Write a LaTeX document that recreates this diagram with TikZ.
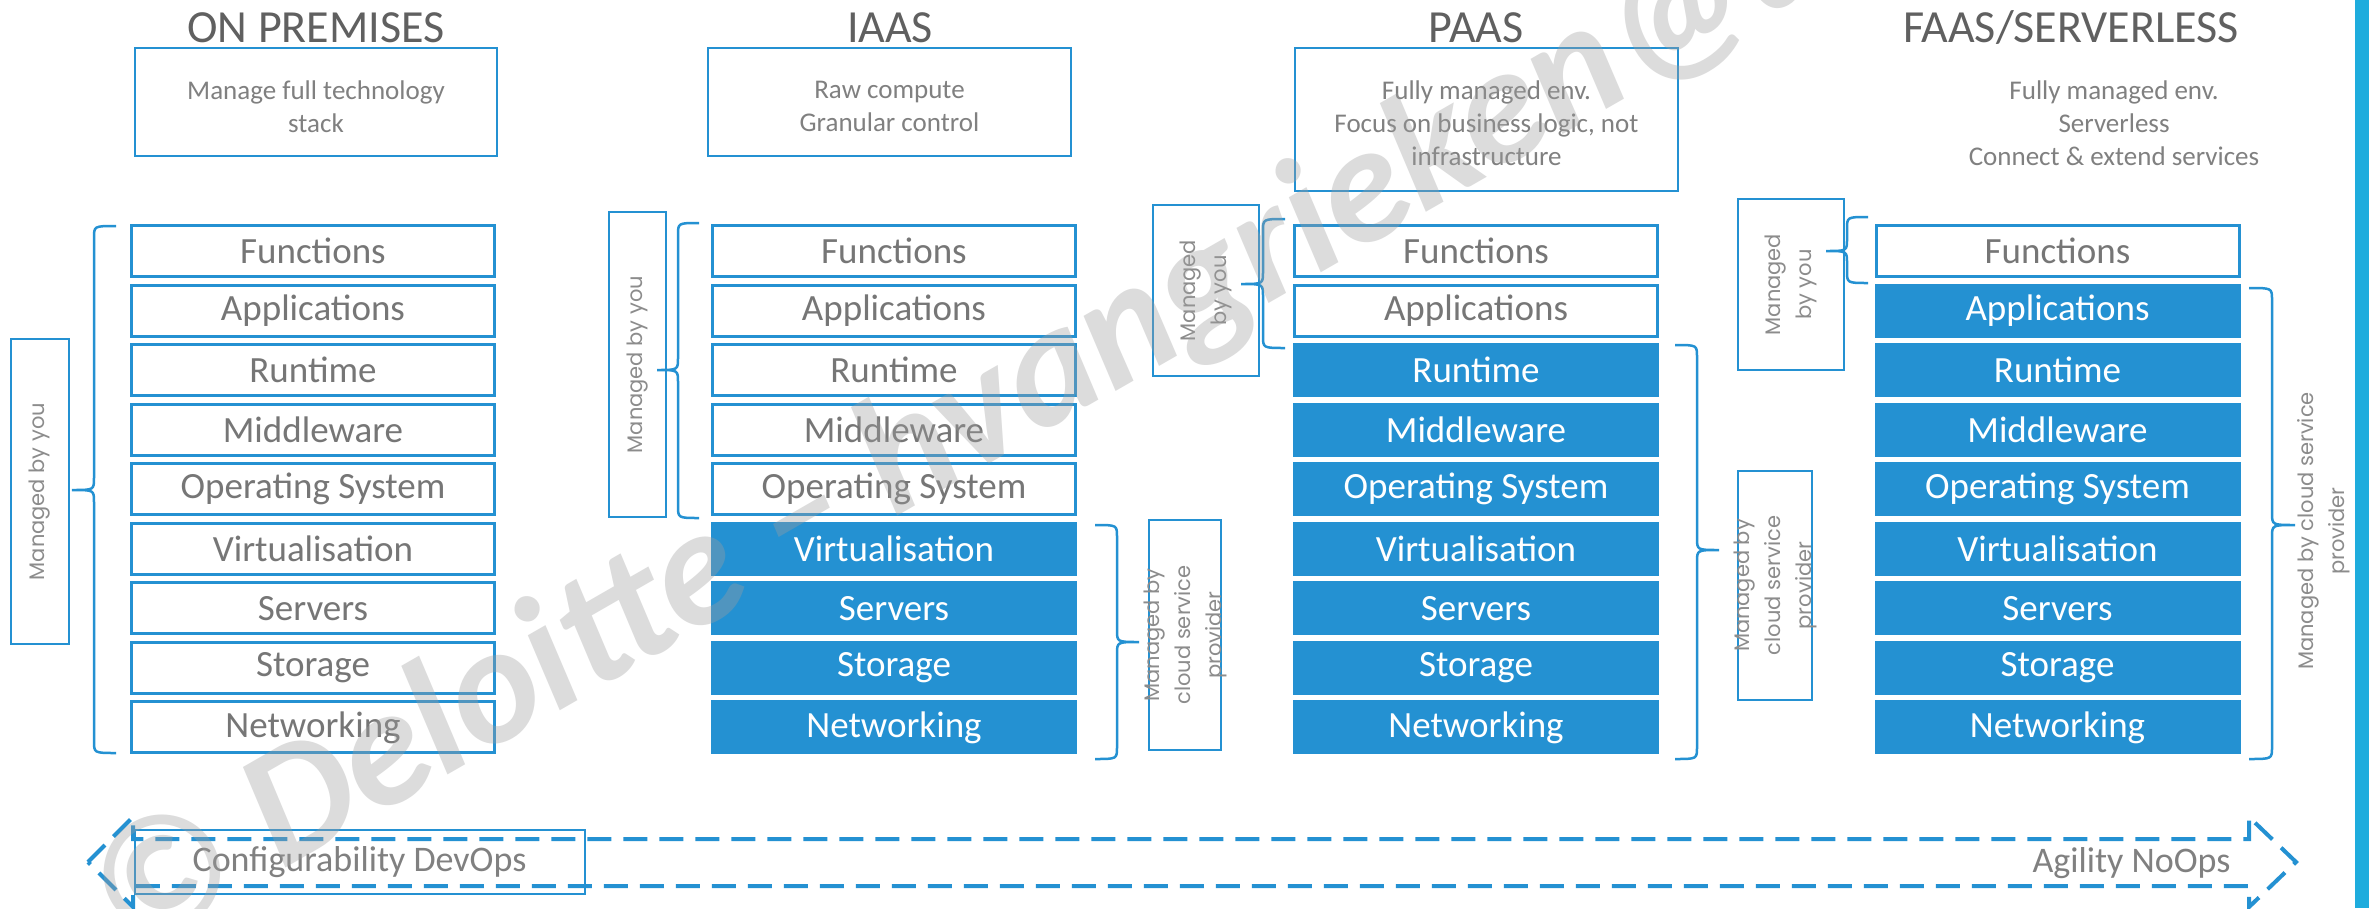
\documentclass[tikz,border=0pt]{standalone}
\usepackage{fontspec}
\setmainfont{Carlito}
\newfontfamily\geofont{Poppins}
\definecolor{stackblue}{RGB}{36,145,210}
\definecolor{barblue}{RGB}{30,172,221}
\definecolor{titlegrey}{RGB}{96,96,96}
\definecolor{textgrey}{RGB}{118,118,118}
\definecolor{softgrey}{RGB}{128,128,128}
\definecolor{taggrey}{RGB}{140,140,140}
\definecolor{wmgrey}{RGB}{158,158,158}

\tikzset{
  layer/.style={draw=stackblue, line width=3, minimum width=363, minimum height=51,
    inner sep=0, text=textgrey, font=\fontsize{37}{44}\selectfont},
  svc/.style={layer, fill=stackblue, text=white},
  heading/.style={anchor=base, text=titlegrey, font=\fontsize{46}{50}\selectfont},
  descbox/.style={draw=stackblue, line width=2.5, inner sep=0},
  desctext/.style={align=center, text=softgrey, font=\fontsize{27}{33}\selectfont},
  tag/.style={draw=stackblue, line width=2.5, inner sep=0},
  tagtext/.style={rotate=90, align=center, inner sep=0, text=taggrey,
    font=\geofont\fontsize{21}{31}\selectfont},
  brace/.style={draw=stackblue, line width=2.5},
  flow/.style={draw=stackblue, line width=4, dash pattern=on 24 off 12},
  note/.style={text=softgrey, inner sep=0, font=\fontsize{36}{40}\selectfont},
}

% curly brace: spine x, top y, bottom y, tip y, signed tip offset
\newcommand\sidebrace[5]{%
  \draw[brace] ({#1-#5},#2) .. controls (#1,#2) .. (#1,{#2+12})
    -- (#1,{#4-12}) .. controls (#1,#4) .. ({#1+#5},#4)
    .. controls (#1,#4) .. (#1,{#4+12})
    -- (#1,{#3-12}) .. controls (#1,#3) .. ({#1-#5},#3);}

\begin{document}
\begin{tikzpicture}[x=1pt,y=-1pt]
\useasboundingbox (0,0) rectangle (2369,908);
\fill[white] (0,0) rectangle (2369,908);

% side bar
\fill[barblue] (2355,0) rectangle (2369,908);

% column headings
\node[heading] (hOp) at (316,42) {ON PREMISES};
\node[heading] (hIa) at (890,42) {IAAS};
\node[heading] (hPa) at (1476,42) {PAAS};
\node[heading] (hFa) at (2071,42) {FAAS/SERVERLESS};

% descriptions
\node[descbox, minimum width=362, minimum height=108] (dOp) at (316,102) {};
\node[desctext] at (316,106.5) {Manage full technology\\stack};
\node[descbox, minimum width=363, minimum height=108] (dIa) at (889.5,102) {};
\node[desctext] at (889.5,106.5) {Raw compute\\Granular control};
\node[descbox, minimum width=383, minimum height=143] (dPa) at (1486.5,119.5) {};
\node[desctext] at (1486.5,123.5) {Fully managed env.\\Focus on business logic, not\\infrastructure};
\node[desctext] (dFa) at (2114,123.5) {Fully managed env.\\Serverless\\Connect \& extend services};

% technology stacks: the first \nw layers are white, the rest are provided
\foreach \col/\cx/\nw in {op/313/9, ia/894/5, pa/1476/2, fa/2057.5/1}{
  \foreach \lab [count=\i from 0] in {Functions,Applications,Runtime,Middleware,Operating System,Virtualisation,Servers,Storage,Networking}{
    \ifnum\i<\nw \def\sty{layer}\else\def\sty{svc}\fi
    \node[\sty] (\col\i) at (\cx,{251+59.56*\i}) {\lab};
  }
}

% responsibility labels
\node[tag, minimum width=58, minimum height=305] (opYou) at (40,491.5) {};
\node[tagtext] at (opYou) {Managed by you};

\node[tag, minimum width=57, minimum height=305] (iaYou) at (637.5,364.5) {};
\node[tagtext] at (iaYou) {Managed by you};
\node[tag, minimum width=72, minimum height=230] (iaCsp) at (1185,635) {};
\node[tagtext] at (iaCsp) {Managed by\\cloud service\\provider};

\node[tag, minimum width=106, minimum height=171] (paYou) at (1206,290.5) {};
\node[tagtext] at (paYou) {Managed\\by you};
\node[tag, minimum width=74, minimum height=229] (paCsp) at (1775,585.5) {};
\node[tagtext] at (paCsp) {Managed by\\cloud service\\provider};

\node[tag, minimum width=106, minimum height=171] (faYou) at (1791,284.5) {};
\node[tagtext] at (faYou) {Managed\\by you};
\node[tagtext] (faCsp) at (2324,531) {Managed by cloud service\\provider};

% braces
\sidebrace{94}{226}{753}{490}{-22}
\sidebrace{678}{223}{518}{370}{-21}
\sidebrace{1117}{525}{759}{642}{22}
\sidebrace{1263}{219}{348}{284}{-22}
\sidebrace{1697}{345}{759}{550}{22}
\sidebrace{1847}{217}{283}{251}{-21}
\sidebrace{2272}{288}{759}{525}{23}

% spectrum arrow
\draw[flow] (88,862) -- (133,817) -- (133,839) -- (2249,839) -- (2249,817)
  -- (2296,862) -- (2249,907) -- (2249,886) -- (133,886) -- (133,907) -- cycle;
\node[note, draw=stackblue, line width=2, minimum width=450, minimum height=64] (devops) at (359.5,862) {Configurability DevOps};
\node[note] (noops) at (2131.5,863) {Agility NoOps};

% watermark
\node[rotate=29.9, anchor=base west, inner sep=0, text=wmgrey, opacity=.36,
  font=\fontsize{167}{170}\selectfont\bfseries\itshape] (wm) at (128,959)
  {© Deloitte – hvangrieken@de};
\end{tikzpicture}
\end{document}
